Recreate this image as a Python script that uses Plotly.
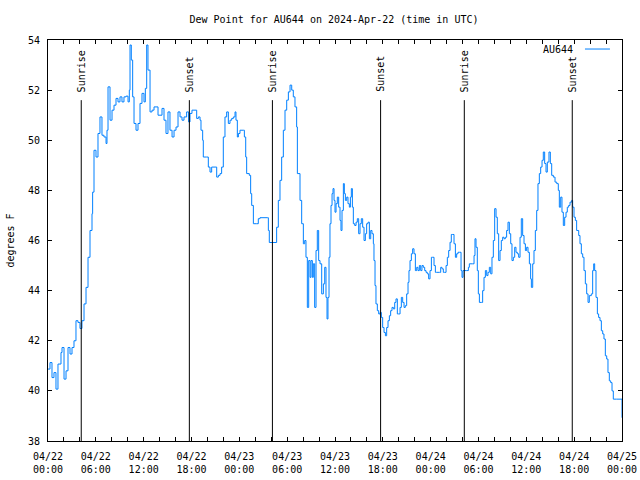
import pandas as pd
import plotly.graph_objects as go

start_time = "2024-04-22 00:00"

# hours since start (UTC) and dew point (deg F)
hours = [
    0.00, 0.25, 0.50, 0.75, 1.00, 1.25, 1.51, 1.63, 1.76, 2.01, 2.26, 2.51, 2.76, 3.01, 3.26, 3.51,
    3.76, 4.01, 4.26, 4.52, 4.77, 5.02, 5.27, 5.52, 5.60, 5.77, 6.02, 6.27, 6.52, 6.77, 7.02, 7.28,
    7.40, 7.53, 7.78, 8.03, 8.28, 8.53, 8.78, 9.03, 9.28, 9.53, 9.78, 10.04, 10.20, 10.29, 10.45,
    10.62, 10.79, 11.04, 11.29, 11.54, 11.79, 12.04, 12.21, 12.38, 12.54, 12.80, 13.05, 13.30,
    13.55, 13.80, 14.05, 14.30, 14.55, 14.80, 15.05, 15.30, 15.56, 15.81, 16.06, 16.31, 16.56,
    16.81, 17.06, 17.39, 17.64, 17.81, 18.06, 18.31,
    18.65, 18.86, 19.07, 19.19, 19.40, 19.48, 19.90, 20.11, 20.32, 20.53, 20.95, 21.16, 21.37,
    21.58, 21.78, 21.99, 22.20, 22.41, 22.62, 22.83, 23.04, 23.25, 23.46, 23.58, 23.75, 23.88,
    24.08, 24.50, 24.63, 24.80, 24.92, 25.25, 25.42, 25.55, 25.76, 26.18, 26.38, 26.59, 27.51,
    27.64, 27.76, 28.47, 28.68, 28.89, 29.10, 29.31, 29.52, 29.73, 29.94, 30.15, 30.36, 30.57,
    30.77, 30.98, 31.19, 31.28, 31.49, 31.61, 31.82, 32.03, 32.20, 32.36, 32.53, 32.70, 32.87,
    32.99, 33.16, 33.28, 33.45, 33.62, 33.78, 33.95, 34.12,
    34.33, 34.54, 34.71, 34.87, 35.00, 35.12, 35.25, 35.37, 35.50, 35.63, 35.75, 35.88, 36.00,
    36.13, 36.29, 36.46, 36.63, 36.75, 36.88, 37.05, 37.17, 37.30, 37.47, 37.63, 37.80, 37.93,
    38.05, 38.18, 38.30, 38.47, 38.64, 38.80, 38.97, 39.14, 39.30, 39.47, 39.64, 39.81, 39.97,
    40.14, 40.31, 40.48, 40.64, 40.81, 40.89, 41.02, 41.14, 41.31, 41.48, 41.65, 41.81, 41.98,
    42.15, 42.32, 42.48, 42.65, 42.82, 42.98, 43.15, 43.32, 43.49, 43.65, 43.82, 43.99, 44.16,
    44.32, 44.49, 44.66, 44.82, 44.99, 45.16, 45.28, 45.41, 45.58, 45.74, 45.91, 46.08, 46.25,
    46.41, 46.58, 46.75, 46.91, 47.08, 47.25, 47.42, 47.58, 47.75, 47.92, 48.09, 48.25, 48.42,
    48.59, 48.75, 48.92, 49.09, 49.26, 49.42, 49.59, 49.76, 49.93, 50.09, 50.26, 50.43, 50.59,
    50.76, 50.93, 51.10, 51.26, 51.43, 51.60,
    51.81, 51.93, 52.06, 52.22, 52.52, 52.73, 52.85, 53.27, 53.44, 53.56, 53.69, 53.85, 53.98,
    54.11, 54.36, 54.52, 54.69, 54.86, 55.03, 55.19, 55.36, 55.53, 55.69, 55.86, 56.03, 56.20,
    56.36, 56.53, 56.70, 56.86, 57.03, 57.20, 57.37, 57.53, 57.70, 57.87, 58.04, 58.20, 58.37,
    58.54, 58.70, 58.87, 59.04, 59.21, 59.37, 59.54, 59.71, 59.88, 60.04, 60.21, 60.38, 60.54,
    60.63, 60.80, 60.96, 61.13, 61.30, 61.46, 61.63, 61.80, 61.97, 62.13, 62.30, 62.47, 62.63,
    62.84, 63.01, 63.18, 63.39, 63.60, 63.81, 64.01, 64.14, 64.31, 64.47, 64.64, 64.81, 64.98,
    65.14, 65.31, 65.48, 65.69, 65.81, 65.98, 66.15, 66.31, 66.57, 66.73, 66.90, 67.07, 67.23,
    67.40, 67.57, 67.74, 67.90, 68.15, 68.32, 68.45, 68.57, 68.74, 68.91, 69.07, 69.24, 69.41,
    69.58, 69.74, 69.91, 70.08, 70.24, 70.41, 70.58, 70.75, 70.91, 71.33, 71.75, 72.00,
]

dewpoint = [
    40.87, 41.13, 40.53, 40.73, 40.07, 41.07, 41.07, 41.53, 41.73, 40.47, 40.80, 41.73, 41.47,
    41.73, 42.00, 42.80, 42.73, 42.49, 42.80, 43.47, 44.13, 45.33, 46.40, 47.07, 47.93, 49.60,
    49.33, 50.27, 50.93, 50.20, 50.13, 49.87, 50.40, 52.13, 50.80, 51.20, 51.40, 51.67, 51.53,
    51.73, 51.53, 51.73, 51.76, 51.53, 52.00, 53.80, 53.20, 51.73, 50.67, 50.40, 50.67, 51.47,
    51.87, 51.53, 52.07, 53.80, 52.80, 51.13, 51.20, 51.33, 51.33, 51.00, 51.00, 51.27, 50.80,
    50.27, 51.13, 50.40, 50.13, 50.40, 50.53, 51.13, 50.93, 50.80, 50.93, 51.13, 50.73, 51.07,
    51.20, 51.20,
    50.87, 50.93, 50.80, 50.40, 50.00, 49.33, 49.33, 48.93, 48.73, 48.93, 48.93, 48.53, 48.60,
    48.67, 48.93, 50.13, 50.93, 51.13, 50.67, 50.80, 50.87, 50.93, 51.13, 50.80, 50.13, 50.27,
    50.40, 50.40, 50.13, 49.33, 48.67, 48.60, 47.87, 47.40, 46.67, 46.67, 46.87, 46.91, 46.91,
    46.40, 45.92, 45.92, 46.53, 47.60, 48.40, 49.33, 50.40, 51.20, 51.60, 51.93, 52.20, 52.00,
    51.73, 51.33, 50.53, 48.67, 48.67, 47.60, 46.67, 45.87, 46.00, 45.33, 43.33, 45.20, 44.53,
    45.20, 44.53, 45.07, 43.33, 45.60, 46.40, 45.20, 45.07,
    43.87, 44.27, 44.93, 43.73, 42.87, 43.73, 45.33, 46.67, 47.40, 47.87, 48.07, 47.60, 47.13,
    47.47, 47.73, 47.33, 46.80, 46.40, 47.20, 48.27, 47.87, 47.60, 47.73, 47.47, 47.33, 47.73,
    48.07, 47.33, 46.67, 46.60, 46.73, 46.87, 46.27, 46.67, 46.87, 46.53, 46.00, 46.27, 46.67,
    46.73, 46.07, 46.40, 46.27, 45.87, 45.20, 44.20, 43.47, 43.20, 43.07, 43.13, 42.93, 42.53,
    42.33, 42.20, 42.53, 42.80, 43.00, 43.20, 43.33, 43.27, 43.53, 43.67, 43.07, 43.07, 43.33,
    43.73, 43.53, 43.33, 43.40, 43.87, 44.33, 44.80, 45.20, 45.47, 45.67, 45.47, 44.80, 44.93,
    44.80, 45.00, 44.80, 45.00, 44.93, 44.80, 44.73, 44.67, 44.47, 44.80, 45.33, 45.33, 45.00,
    44.73, 44.73, 44.73, 44.73, 44.93, 44.87, 44.73, 44.73, 45.00, 45.33, 45.60, 45.93, 46.24,
    46.24, 45.87, 45.33, 45.47, 45.53, 45.53,
    44.80, 44.53, 44.80, 44.80, 44.80, 44.93, 45.07, 45.07, 45.40, 46.07, 45.73, 44.80, 43.87,
    43.53, 43.53, 44.00, 44.53, 44.80, 44.60, 44.73, 44.93, 44.67, 45.33, 46.00, 47.27, 46.93,
    46.27, 45.20, 45.60, 46.00, 46.13, 46.07, 46.13, 46.40, 46.73, 46.27, 45.87, 45.20, 45.33,
    45.73, 45.53, 45.47, 45.33, 46.13, 46.87, 46.20, 45.87, 45.60, 45.73, 45.53, 45.07, 44.47,
    44.13, 45.07, 45.60, 46.40, 47.20, 48.27, 48.67, 48.93, 49.20, 49.53, 49.07, 48.73, 49.13,
    49.53, 49.07, 48.60, 48.53, 48.33, 48.27, 48.00, 47.33, 47.73, 47.13, 46.60, 46.93, 47.13,
    47.33, 47.40, 47.53, 47.60, 47.33, 46.93, 46.80, 46.40, 46.20, 45.87, 45.47, 45.33, 44.80,
    44.27, 43.87, 43.53, 43.80, 43.87, 44.80, 45.07, 44.80, 43.73, 43.07, 42.93, 42.80, 42.40,
    42.27, 42.07, 41.40, 41.27, 40.73, 40.40, 40.33, 40.00, 39.67, 39.67, 39.67, 38.93,
]

event_hours = [4.17, 17.73, 28.15, 41.72, 52.22, 65.76]
event_labels = ["Sunrise", "Sunset", "Sunrise", "Sunset", "Sunrise", "Sunset"]
event_line_top = 51.6

y_ticks = [38, 40, 42, 44, 46, 48, 50, 52, 54]
x_tick_hours = [0, 6, 12, 18, 24, 30, 36, 42, 48, 54, 60, 66, 72]
x_tick_labels = [
    "04/22<br>00:00", "04/22<br>06:00", "04/22<br>12:00", "04/22<br>18:00",
    "04/23<br>00:00", "04/23<br>06:00", "04/23<br>12:00", "04/23<br>18:00",
    "04/24<br>00:00", "04/24<br>06:00", "04/24<br>12:00", "04/24<br>18:00",
    "04/25<br>00:00",
]
series_name = "AU644"
title_text = "Dew Point for AU644 on 2024-Apr-22 (time in UTC)"
y_title = "degrees F"

t0 = pd.Timestamp(start_time)
to_time = lambda h: t0 + pd.Timedelta(hours=h)
times = [to_time(h) for h in hours]

FONT = "DejaVu Sans Mono"
LINE_COLOR = "#0080ff"

fig = go.Figure()
fig.add_trace(go.Scatter(
    x=times, y=dewpoint, mode="lines", name=series_name,
    line=dict(color=LINE_COLOR, width=1, shape="hv"),
    showlegend=False,
))

shapes = []
annotations = []
for h, lab in zip(event_hours, event_labels):
    shapes.append(dict(type="line", xref="x", yref="y", x0=to_time(h), x1=to_time(h),
                       y0=y_ticks[0], y1=event_line_top, line=dict(color="black", width=1)))
    annotations.append(dict(x=to_time(h), y=event_line_top, xref="x", yref="y",
                            text=lab, textangle=-90, showarrow=False,
                            xanchor="center", yanchor="bottom", yshift=6,
                            font=dict(family=FONT, size=10, color="black")))

# legend (gnuplot style: text then sample line)
shapes.append(dict(type="line", xref="paper", yref="paper", x0=0.9355, x1=0.979,
                   y0=0.9775, y1=0.9775, line=dict(color=LINE_COLOR, width=1)))
annotations.append(dict(x=0.918, y=0.9775, xref="paper", yref="paper", text=series_name,
                        showarrow=False, xanchor="right", yanchor="middle",
                        font=dict(family=FONT, size=10, color="black")))
# y axis title
annotations.append(dict(x=-0.066, y=0.5, xref="paper", yref="paper", text=y_title,
                        textangle=-90, showarrow=False, xanchor="center", yanchor="middle",
                        font=dict(family=FONT, size=10, color="black")))

fig.update_layout(
    width=640, height=480,
    margin=dict(l=48, r=18, t=40, b=39, autoexpand=False),
    paper_bgcolor="white", plot_bgcolor="white",
    font=dict(family=FONT, size=10, color="black"),
    title=dict(text=title_text, x=334 / 640, xanchor="center", y=1 - 19 / 480,
               yanchor="middle", font=dict(family=FONT, size=10, color="black")),
    shapes=shapes, annotations=annotations,
    xaxis=dict(
        range=[to_time(x_tick_hours[0]), to_time(x_tick_hours[-1])],
        tickmode="array", tickvals=[to_time(h) for h in x_tick_hours], ticktext=x_tick_labels,
        ticks="inside", ticklen=4, tickcolor="black", tickwidth=1,
        showline=True, linecolor="black", linewidth=1, mirror="allticks",
        showgrid=False, zeroline=False, automargin=False, ticklabelstandoff=6,
        minor=dict(dtick=2 * 3600 * 1000, tick0=to_time(0), ticks="inside", ticklen=4,
                   tickcolor="black", showgrid=False),
        tickfont=dict(family=FONT, size=10, color="black"),
    ),
    yaxis=dict(
        range=[y_ticks[0], y_ticks[-1]],
        tickmode="array", tickvals=y_ticks,
        ticks="inside", ticklen=4, tickcolor="black", tickwidth=1,
        showline=True, linecolor="black", linewidth=1, mirror="allticks",
        showgrid=False, zeroline=False, automargin=False, ticklabelstandoff=5,
        tickfont=dict(family=FONT, size=10, color="black"),
    ),
)

fig.write_html("out.html", config={"displayModeBar": False},
               post_script="document.body.style.margin='0';")
